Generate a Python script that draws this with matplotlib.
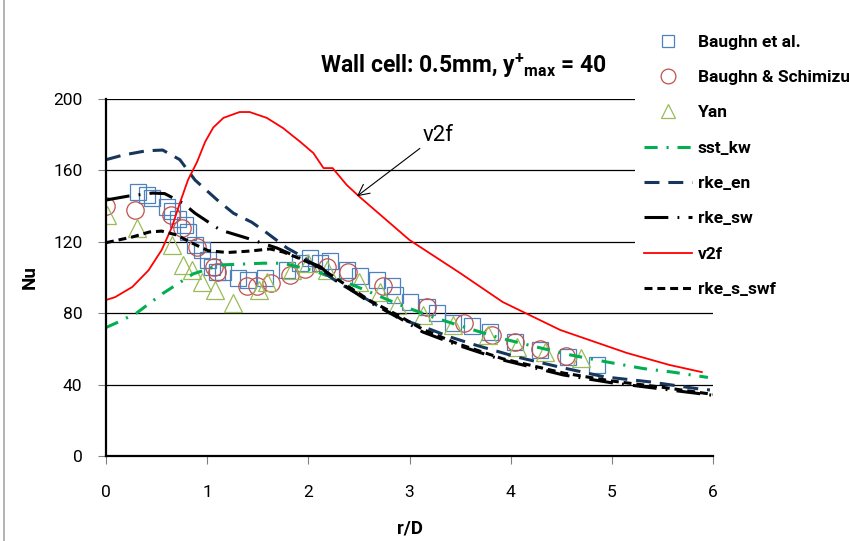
import matplotlib
matplotlib.use("Agg")
import matplotlib.pyplot as plt
from matplotlib.lines import Line2D

FONT = ['Roboto', 'DejaVu Sans']
plt.rcParams['font.family'] = FONT
plt.rcParams['mathtext.fontset'] = 'custom'
plt.rcParams['mathtext.rm'] = 'Roboto:bold'
plt.rcParams['mathtext.it'] = 'Roboto:bold'
plt.rcParams['mathtext.bf'] = 'Roboto:bold'

# ---- data ----
baughn_x = [0.32, 0.41, 0.45, 0.6, 0.65, 0.71, 0.78, 0.81, 0.88, 0.95, 1.01, 1.05, 1.1, 1.16,
            1.3, 1.4, 1.57, 1.79, 1.92, 2.02, 2.12, 2.21, 2.38, 2.51, 2.68, 2.83, 2.86, 3.0,
            3.17, 3.27, 3.43, 3.62, 3.8, 4.04, 4.29, 4.57, 4.85]
baughn_y = [148, 146, 144.5, 139.5, 137, 133, 129.5, 125.5, 118, 115.5, 110, 106, 103, 103,
            100, 98.6, 99.7, 104, 108, 111, 108, 109, 104, 101, 98.6, 95, 90, 86,
            83.5, 80, 74.5, 73, 69.5, 64, 59.5, 55.5, 51]

schim_x = [0, 0.29, 0.64, 0.75, 0.9, 1.07, 1.1, 1.39, 1.49, 1.63, 1.82, 1.97, 2.18, 2.39,
           2.74, 3.17, 3.54, 3.82, 4.04, 4.29, 4.55]
schim_y = [140, 138, 135, 128, 117, 106, 103, 95, 95, 97, 101.5, 105, 106, 103,
           95, 83.5, 74.5, 68, 64, 60, 56]

yan_x = [0.01, 0.31, 0.65, 0.76, 0.85, 0.95, 1.08, 1.26, 1.51, 1.59, 1.84, 2.0, 2.18, 2.5,
         2.71, 2.88, 3.13, 3.43, 3.78, 4.06, 4.34, 4.7]
yan_y = [135, 128, 118, 107, 104, 97.5, 93, 85.7, 93, 97.5, 104, 108, 104, 97.5,
         92, 84.6, 79, 73.4, 68, 61, 58, 55]

sst_x = [0, 0.1, 0.3, 0.56, 0.86, 1.13, 1.55, 1.75, 2.04, 2.3, 2.56, 2.89, 3.22, 3.57, 3.9,
         4.26, 4.6, 4.95, 5.31, 5.6, 5.95]
sst_y = [72, 74.5, 80, 91, 102, 107, 108, 108, 104, 99, 93, 85, 78, 71.7, 66,
         61, 56.5, 52.7, 49, 47, 44]

rke_en_x = [0, 0.17, 0.4, 0.56, 0.73, 0.88, 1.1, 1.26, 1.44, 1.59, 1.79, 1.95, 2.1, 2.3,
            2.59, 2.89, 3.17, 3.4, 3.65, 4.06, 4.47, 4.93, 5.38, 5.87, 5.97]
rke_en_y = [166, 168.6, 171, 171.4, 166, 154.6, 143.4, 136, 131, 125, 116.5, 111.5, 105, 97,
            87.4, 77.3, 71.7, 66.7, 62.2, 55.5, 50, 44.3, 41.5, 37.5, 37]

rke_sw_x = [0, 0.22, 0.46, 0.58, 0.76, 0.88, 1.13, 1.42, 1.54, 1.69, 1.89, 2.12, 2.28, 2.38,
            2.61, 2.88, 3.13, 3.47, 3.92, 4.52, 5.0, 5.5, 6.0]
rke_sw_y = [143.4, 145.6, 147.3, 147, 141.7, 136, 126.6, 121.6, 119.3, 116.5, 111.5, 106, 98, 94.7,
            86, 78, 69.5, 62.2, 53.8, 45.4, 41, 37.5, 34]

v2f_x = [0, 0.09, 0.26, 0.42, 0.55, 0.65, 0.73, 0.81, 0.9, 0.98, 1.06, 1.16, 1.32, 1.42, 1.59,
         1.75, 1.92, 2.05, 2.15, 2.24, 2.38, 2.51, 3.0, 3.5, 3.92, 4.49, 5.15, 5.57, 5.89]
v2f_y = [87.4, 89, 94.7, 104, 115.4, 128, 141.7, 154.6, 164.7, 176, 184, 189.4, 192.7, 192.7, 189.4,
         183.7, 176, 169.7, 161.3, 161.3, 151.8, 145, 121, 102.5, 86.3, 70.6, 57.7, 51, 47]

swf_x = [0, 0.26, 0.43, 0.55, 0.7, 0.85, 1.01, 1.2, 1.42, 1.62, 1.75, 1.95, 2.12, 2.38, 2.61,
         2.88, 3.13, 3.47, 3.92, 4.52, 5.0, 5.5, 6.0]
swf_y = [119.5, 122.7, 125.5, 126, 123.8, 119.3, 115, 114, 114.8, 116, 114.3, 109.8, 105.3, 95.5, 87,
         79, 71, 63, 54.5, 46.5, 42, 38.5, 34.5]

x_ticks = [0, 1, 2, 3, 4, 5, 6]
y_ticks = [0, 40, 80, 120, 160, 200]

# ---- figure ----
fig = plt.figure(figsize=(8.49, 5.41), dpi=100)
ax = fig.add_axes([106 / 849, 1 - 456 / 541, (713 - 106) / 849, (456 - 99) / 541])

ax.plot(baughn_x, baughn_y, linestyle='none', marker='s', markersize=11,
        markerfacecolor='none', markeredgecolor='#4F81BD', markeredgewidth=0.9,
        label='Baughn et al.')
ax.plot(schim_x, schim_y, linestyle='none', marker='o', markersize=12.5,
        markerfacecolor='none', markeredgecolor='#C0504D', markeredgewidth=0.9,
        label='Baughn & Schimizu')
ax.plot(yan_x, yan_y, linestyle='none', marker='^', markersize=12.5,
        markerfacecolor='none', markeredgecolor='#9BBB59', markeredgewidth=0.9,
        label='Yan')

lw = 2.2
ax.plot(sst_x, sst_y, color='#00B050', lw=lw, dashes=(4.3, 2.9, 0.7, 2.9), label='sst_kw')
ax.plot(rke_en_x, rke_en_y, color='#17365D', lw=lw, dashes=(4.9, 2.9), label='rke_en')
ax.plot(rke_sw_x, rke_sw_y, color='black', lw=lw, dashes=(7.8, 3, 0.6, 3), label='rke_sw')
ax.plot(v2f_x, v2f_y, color='#FF0000', lw=1.3, label='v2f')
ax.plot(swf_x, swf_y, color='black', lw=lw, dashes=(2.6, 1.6), label='rke_s_swf')

ax.set_xlim(0, 6)
ax.set_ylim(0, 200)
ax.set_xticks(x_ticks)
ax.set_yticks(y_ticks)
ax.set_xticklabels([str(v) for v in x_ticks], fontsize=12.5)
ax.set_yticklabels([str(v) for v in y_ticks], fontsize=12.5)
ax.tick_params(axis='both', direction='out', length=6, width=0.8, color='#808080')
ax.tick_params(axis='x', pad=15)
ax.tick_params(axis='y', pad=11)
ax.yaxis.grid(True, color='black', lw=0.9)
ax.set_axisbelow(True)
for s in ['top', 'right']:
    ax.spines[s].set_visible(False)
for s in ['left', 'bottom']:
    ax.spines[s].set_linewidth(1.6)
    ax.spines[s].set_color('black')

ax.set_xlabel('r/D', fontsize=13.5, fontweight='bold', labelpad=14)
ax.set_ylabel('Nu', fontsize=13.5, fontweight='bold', labelpad=10)

ax.annotate('v2f', xy=(2.48, 145.5), xytext=(3.13, 173.5), fontsize=16,
            ha='left', va='bottom',
            arrowprops=dict(arrowstyle='->', color='black', lw=0.8, relpos=(0, 0),
                            shrinkA=0, shrinkB=0, mutation_scale=20))

fig.text(0.546, 0.878, r'Wall cell: 0.5mm, y$^{+}{}_{max}$ = 40', fontsize=16.5,
         fontweight='bold', ha='center', va='center')

leg = ax.legend(loc='upper left', bbox_to_anchor=(635 / 849, 1 - 26 / 541),
                bbox_transform=fig.transFigure, frameon=True, fancybox=False,
                edgecolor='none', facecolor='white', framealpha=1,
                prop={'weight': 'bold', 'size': 12.5}, markerscale=0.85,
                handlelength=2.76, handletextpad=0.35, labelspacing=1.16,
                borderpad=0.5, borderaxespad=0)
leg.set_zorder(5)

# chart-area border on the left
fig.add_artist(Line2D([4 / 849, 4 / 849], [0, 1], transform=fig.transFigure,
                      color='#A6A6A6', lw=1.2))

fig.savefig('out.png', dpi=100)
